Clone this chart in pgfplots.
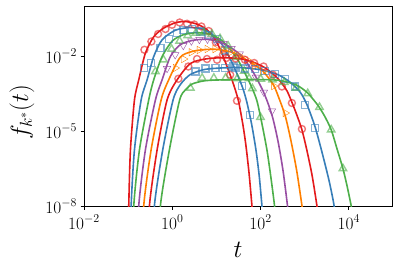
\documentclass[border=0pt]{standalone}
\usepackage{pgfplots}
\pgfplotsset{compat=1.18}
\definecolor{cR}{RGB}{228,26,28}
\definecolor{cB}{RGB}{55,126,184}
\definecolor{cG}{RGB}{77,175,74}
\definecolor{cP}{RGB}{152,78,163}
\definecolor{cO}{RGB}{255,127,0}
\begin{document}
\begin{tikzpicture}
\useasboundingbox (-84pt,-65pt) rectangle (315pt,206pt);
\begin{loglogaxis}[
  scale only axis, width=308pt, height=200pt,
  xmin=1e-2, xmax=9.5e4, ymin=1e-8, ymax=1,
  xtick={1e-2,1,1e2,1e4}, ytick={1e-8,1e-5,1e-2},
  minor xtick={}, minor ytick={},
  tick align=outside, tick pos=left, major tick length=3.5pt,
  axis line style={line width=0.8pt},
  tick style={line width=0.8pt, black},
  ticklabel style={font=\fontsize{17}{17}\selectfont},
  xticklabel style={yshift=-2pt},
  xlabel={$t$}, ylabel={$f_{k^*}(t)$},
  every axis x label/.style={at={(axis description cs:0.5,0)}, yshift=-44pt, anchor=center, font=\fontsize{24}{24}\selectfont},
  every axis y label/.style={at={(axis description cs:0,0.47)}, xshift=-62pt, rotate=90, anchor=center, font=\fontsize{25}{25}\selectfont},
  line plot/.style={line width=1.6pt, no markers, smooth, tension=0.45},
  mk/.style={only marks, mark size=3.5pt, mark options={line width=1.4pt, fill=none, draw opacity=0.6}},
  mt/.style={only marks, mark size=4.3pt, mark options={line width=1.4pt, fill=none, draw opacity=0.6}},
]
% ---------- markers ----------
\addplot[mk, cR, mark=o] coordinates {(0.2339,1.778e-2) (0.3365,3.802e-2) (0.4775,7.586e-2) (0.7015,0.1202) (0.9886,0.1778) (1.469,0.2188) (2.163,0.195) (3.148,0.182) (4.571,0.1514) (6.653,0.1) (9.683,3.548e-2) (14.09,1.122e-2) (20.51,1.778e-3) (29.24,1.622e-4)};
\addplot[mk, cB, mark=square] coordinates {(0.2254,3.311e-3) (0.3311,5.248e-3) (0.537,2.089e-2) (0.8299,4.786e-2) (1.285,8.318e-2) (1.811,0.1122) (2.805,0.1202) (4.325,9.55e-2) (6.668,7.079e-2) (10.26,4.677e-2) (15.81,1.66e-2) (24.38,3.802e-3) (37.58,6.31e-4) (57.54,4.467e-5)};
\addplot[mt, cG, mark=triangle] coordinates {(0.415,2.399e-3) (0.631,7.079e-3) (0.9616,1.905e-2) (1.466,3.981e-2) (2.234,6.607e-2) (3.404,8.318e-2) (5.2,8.71e-2) (7.925,7.586e-2) (12.08,5.012e-2) (18.41,2.512e-2) (28.05,8.913e-3) (42.85,2.512e-3) (65.31,5.012e-4) (99.54,3.548e-5)};
\addplot[mt, cP, mark=triangle, mark options={rotate=180}] coordinates {(0.762,3.162e-3) (1.164,1.122e-2) (1.774,2.63e-2) (2.704,3.981e-2) (4.111,4.571e-2) (6.266,4.677e-2) (9.55,4.169e-2) (14.55,3.162e-2) (22.08,1.995e-2) (33.65,1.202e-2) (51.29,5.012e-3) (78.34,1.413e-3) (118.9,3.548e-4) (181.1,6.31e-5)};
\addplot[mt, cO, mark=triangle, mark options={rotate=-90}] coordinates {(1.175,3.311e-3) (1.811,7.586e-3) (2.692,1.413e-2) (4.074,1.738e-2) (6.166,1.905e-2) (9.333,1.905e-2) (14.13,1.738e-2) (21.38,1.445e-2) (32.36,1.047e-2) (48.98,7.079e-3) (74.13,4.169e-3) (112.2,2.399e-3) (199.5,6.31e-4) (363.1,5.248e-5)};
\addplot[mk, cR, mark=o] coordinates {(1.374,1.23e-3) (2.312,3.802e-3) (3.639,7.586e-3) (6.124,7.586e-3) (10.33,7.079e-3) (16.79,8.318e-3) (27.23,7.943e-3) (44.16,7.079e-3) (71.61,5.248e-3) (116.9,3.802e-3) (190.5,1.778e-3) (304.8,6.026e-4) (512.9,1.318e-4) (865,1.202e-5)};
\addplot[mk, cB, mark=square] coordinates {(3.334,2.399e-3) (5.61,3.162e-3) (9.441,3.311e-3) (15.89,3.311e-3) (26.79,3.311e-3) (45.08,3.162e-3) (75.86,2.951e-3) (127.6,2.512e-3) (215.3,1.905e-3) (362.2,1.202e-3) (609.5,6.026e-4) (1026,1.122e-4) (1730,1.318e-5)};
\addplot[mt, cG, mark=triangle] coordinates {(2.57,5.248e-4) (4.742,1.318e-3) (8.73,1.318e-3) (16.11,1.318e-3) (29.72,1.259e-3) (54.83,1.259e-3) (101.2,1.202e-3) (186.6,1.122e-3) (344.4,8.913e-4) (635.3,5.248e-4) (1172,3.162e-4) (2163,8.913e-5) (3981,1.122e-5) (7345,3.162e-7)};
% ---------- lines ----------
\addplot[line plot, cR] coordinates {(0.1,1e-10) (0.1033,1e-8) (0.1127,1.738e-6) (0.139,1.738e-4) (0.1738,1.096e-3) (0.2455,1.288e-2) (0.3802,5.888e-2) (0.631,0.1288) (1.175,0.2138) (1.995,0.2399) (3.548,0.1905) (5.623,0.1259) (8.318,0.0631) (12.30,0.01778) (19.05,2.512e-3) (25.12,6.31e-4) (31.62,1.585e-4) (39.81,1.778e-5) (46.77,2.512e-6) (54.95,1.995e-7) (63.83,1e-8) (72.44,6.31e-10)};
\addplot[line plot, cB] coordinates {(0.1135,1e-10) (0.117,1e-8) (0.139,1.738e-6) (0.1968,1.738e-4) (0.2692,1.122e-3) (0.3802,9.55e-3) (0.5888,4.467e-2) (1.175,0.1072) (2.512,0.138) (5.012,0.1175) (8.913,0.0631) (14.13,0.02512) (22.39,5.623e-3) (31.62,1.413e-3) (39.81,5.012e-4) (48.98,1.413e-4) (63.1,1.778e-5) (78.7,1.738e-6) (93.3,1.585e-7) (107.6,1e-8) (123.0,6.31e-10)};
\addplot[line plot, cG] coordinates {(0.1288,1e-10) (0.134,1e-8) (0.1803,1.738e-6) (0.2924,1.738e-4) (0.3802,1.122e-3) (0.5888,9.55e-3) (1.0,3.981e-2) (1.778,7.079e-2) (3.548,8.511e-2) (7.079,7.586e-2) (12.59,4.467e-2) (19.95,1.995e-2) (31.62,6.31e-3) (44.67,1.995e-3) (63.1,5.623e-4) (82.99,1.585e-4) (107.2,1.995e-5) (139.6,1.738e-6) (169.8,1.585e-7) (207.5,1e-8) (239.9,6.31e-10)};
\addplot[line plot, cP] coordinates {(0.166,1e-10) (0.1738,1e-8) (0.246,1.738e-6) (0.415,1.738e-4) (0.5888,1.122e-3) (0.906,9.55e-3) (1.514,2.818e-2) (2.818,4.169e-2) (5.623,4.677e-2) (10,3.981e-2) (17.78,2.63e-2) (34.67,1.122e-2) (63.1,2.818e-3) (107.2,5.012e-4) (144.5,1.413e-4) (190.5,3.162e-5) (251.2,3.548e-6) (323.6,2.512e-7) (408.3,1e-8) (467.7,1e-9)};
\addplot[line plot, cO] coordinates {(0.2163,1e-10) (0.2254,1e-8) (0.3311,1.738e-6) (0.5585,1.738e-4) (0.8318,1.122e-3) (1.514,8.913e-3) (2.818,1.514e-2) (5.623,1.82e-2) (11.22,1.82e-2) (25.12,1.318e-2) (58.88,5.623e-3) (112.2,2.512e-3) (195,7.079e-4) (263,1.995e-4) (363.1,3.981e-5) (489.8,3.981e-6) (660.7,2.512e-7) (868.9,1e-8) (1000,1.585e-9)};
\addplot[line plot, cR] coordinates {(0.2917,1e-10) (0.3034,1e-8) (0.4529,1.738e-6) (0.762,1.738e-4) (1.288,1.122e-3) (2.57,5.012e-3) (5.623,7.586e-3) (12.59,8.511e-3) (31.62,7.943e-3) (63.1,6.026e-3) (125.9,3.388e-3) (199.5,1.778e-3) (281.8,9.55e-4) (398.1,3.981e-4) (512.9,1.413e-4) (660.7,4.467e-5) (865,1.122e-5) (1117,1.738e-6) (1479,1.585e-7) (1897,1e-8) (2188,1.585e-9)};
\addplot[line plot, cB] coordinates {(0.38,1e-10) (0.3936,1e-8) (0.6067,1.738e-6) (1.042,1.738e-4) (1.514,7.079e-4) (2.512,1.778e-3) (5.012,2.818e-3) (10,3.236e-3) (31.62,3.467e-3) (100,2.818e-3) (251.2,1.778e-3) (467.7,8.913e-4) (794.3,3.548e-4) (1096,1.259e-4) (1380,4.467e-5) (1730,1.413e-5) (2188,3.162e-6) (2818,5.623e-7) (3631,8.913e-8) (4645,1e-8) (5370,1e-9)};
\addplot[line plot, cG] coordinates {(0.5188,1e-10) (0.5383,1e-8) (0.859,1.738e-6) (1.469,1.738e-4) (1.995,4.467e-4) (2.818,7.586e-4) (5.012,1e-3) (10,1.096e-3) (63.1,1.148e-3) (251.2,1.072e-3) (631,7.079e-4) (1122,3.548e-4) (1585,1.778e-4) (2042,1e-4) (2818,3.981e-5) (3981,1.122e-5) (5370,1.995e-6) (7345,3.162e-7) (9120,6.31e-8) (11324,1e-8) (12882,2.512e-9)};
\end{loglogaxis}
\end{tikzpicture}
\end{document}
